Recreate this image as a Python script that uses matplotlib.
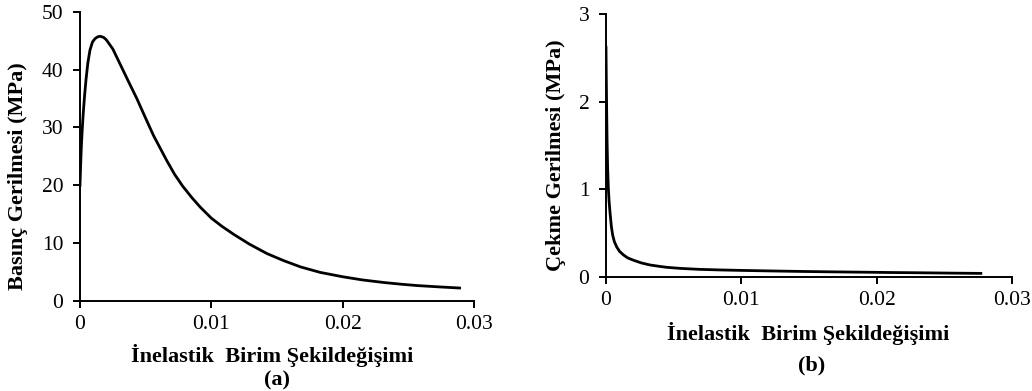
import matplotlib
matplotlib.use("Agg")
import matplotlib.pyplot as plt

plt.rcParams['font.family'] = ['Liberation Serif', 'DejaVu Serif']

# (a) compressive behaviour: inelastic strain vs stress (MPa)
comp_strain = [0.0, 0.00005, 0.0001, 0.00018, 0.00025, 0.00035, 0.00046,
               0.0006, 0.00076, 0.00095, 0.00115, 0.00135, 0.00153, 0.0018,
               0.002, 0.0025, 0.00305, 0.0036, 0.00433, 0.005, 0.0056,
               0.0066, 0.0072, 0.0078, 0.0085, 0.00916, 0.01, 0.0108,
               0.0117, 0.0129, 0.01425, 0.0155, 0.0168, 0.0183, 0.02,
               0.0215, 0.02315, 0.0245, 0.0257, 0.0273, 0.0289]
comp_stress = [20.0, 23.5, 26.5, 30.0, 32.5, 35.5, 38.3,
               41.2, 43.4, 44.8, 45.4, 45.7, 45.8, 45.6,
               45.2, 43.6, 41.0, 38.4, 35.0, 31.6, 28.6,
               24.3, 21.9, 19.9, 17.9, 16.2, 14.3, 12.9,
               11.5, 9.8, 8.15, 6.95, 5.85, 4.9, 4.15,
               3.6, 3.15, 2.85, 2.62, 2.4, 2.2]

# (b) tensile behaviour: inelastic strain vs stress (MPa)
tens_strain = [0.0, 0.00002, 0.00005, 0.00008, 0.00012, 0.00017, 0.00023,
               0.0003, 0.0004, 0.0005, 0.00062, 0.00079, 0.001, 0.00128,
               0.0016, 0.002, 0.0026, 0.00325, 0.004, 0.0045, 0.0055,
               0.0069, 0.0085, 0.01, 0.0125, 0.0145, 0.0165, 0.0188,
               0.021, 0.0232, 0.0255, 0.0277]
tens_stress = [2.62, 2.3, 1.9, 1.55, 1.25, 1.02, 0.86,
               0.73, 0.57, 0.47, 0.40, 0.34, 0.29, 0.25,
               0.215, 0.19, 0.158, 0.134, 0.117, 0.107, 0.095,
               0.084, 0.077, 0.072, 0.065, 0.06, 0.056, 0.052,
               0.048, 0.045, 0.041, 0.038]

xticks = [0, 0.01, 0.02, 0.03]
xticklabels = ['0', '0.01', '0.02', '0.03']
xlabel = 'İnelastik  Birim Şekildeğişimi'

fig = plt.figure(figsize=(10.32, 3.91), dpi=100)
ax1 = fig.add_axes([0.0775, 0.2309, 0.3818, 0.7384])
ax2 = fig.add_axes([0.5872, 0.2923, 0.3934, 0.6719])

lab = dict(fontsize=16, fontweight='bold', ha='center', va='center')


def style(ax):
    for s in ['top', 'right']:
        ax.spines[s].set_visible(False)
    for s in ['left', 'bottom']:
        ax.spines[s].set_linewidth(1.4)
    ax.tick_params(direction='out', length=5, width=1.4, labelsize=15.5)
    ax.tick_params(axis='y', pad=7)
    ax.tick_params(axis='x', pad=5)
    ax.set_xticks(xticks)
    ax.set_xticklabels(xticklabels)
    ax.set_xlim(0, 0.03)


ax1.plot(comp_strain, comp_stress, color='black', lw=2.0)
style(ax1)
ax1.set_ylim(0, 50)
ax1.set_yticks([0, 10, 20, 30, 40, 50])
fig.text(0.0174, 0.55, 'Basınç Gerilmesi (MPa)', rotation=90, **lab)
fig.text(0.2636, 0.092, xlabel, **lab)
fig.text(0.268, 0.028, '(a)', **lab)

ax2.plot(tens_strain, tens_stress, color='black', lw=2.0)
style(ax2)
ax2.set_ylim(0, 3)
ax2.set_yticks([0, 1, 2, 3])
fig.text(0.539, 0.604, 'Çekme Gerilmesi (MPa)', rotation=90, **lab)
fig.text(0.783, 0.146, xlabel, **lab)
fig.text(0.786, 0.064, '(b)', **lab)

fig.savefig('out.png', dpi=100)
